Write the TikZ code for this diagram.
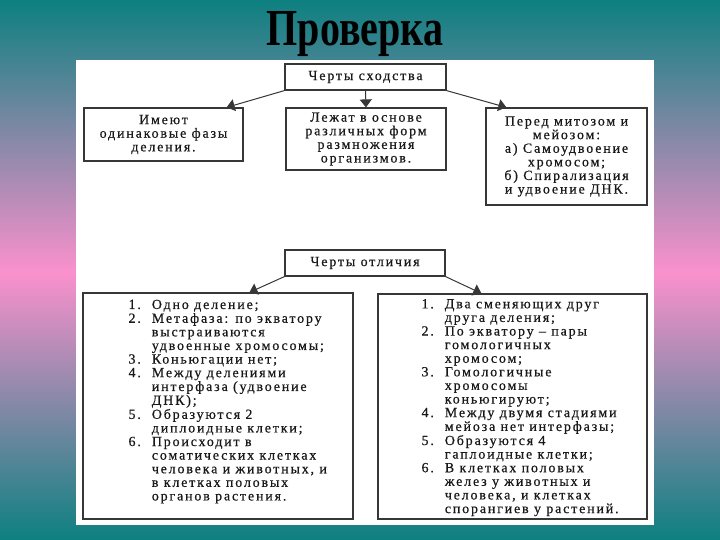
\documentclass[tikz,border=0pt]{standalone}
\usepackage{fontspec}
\setmainfont{Liberation Serif}
\newfontfamily\bodyfont[LetterSpace=13,FakeBold=0.5]{Liberation Serif}
\usetikzlibrary{arrows.meta}
\definecolor{teal1}{RGB}{13,128,128}
\definecolor{pink1}{RGB}{250,145,205}
\definecolor{edge}{RGB}{55,55,55}
\definecolor{ink}{RGB}{25,25,25}
\tikzset{
  box/.style={draw=edge, line width=1.2pt, fill=white, inner sep=0pt},
  txt/.style={font=\bodyfont\fontsize{14}{13.6}\selectfont, text=ink, align=center},
  conn/.style={draw=edge, line width=1pt, -{Triangle[width=12pt,length=8pt]}},
}
\begin{document}
\begin{tikzpicture}[x=1pt,y=-1pt]
\useasboundingbox (0,0) rectangle (720,540);
\shade[top color=teal1, bottom color=pink1] (0,0) rectangle (720,272.5);
\shade[top color=pink1, bottom color=teal1] (0,272) rectangle (720,540);
\fill[white] (76,60) rectangle (654,525);
\node[font=\bfseries\fontsize{52}{52}\selectfont, anchor=base] (title) at (355,46) {\scalebox{0.77}[1]{Проверка}};

\node[box, txt, minimum width=161pt, minimum height=26pt] (sim) at (365.5,77) {Черты сходства};
\node[box, txt, minimum width=159pt, minimum height=53pt] (b1) at (163.5,134.5) {Имеют\\одинаковые фазы\\деления.};
\node[box, txt, minimum width=160pt, minimum height=62pt] (b2) at (366,139) {Лежат в основе\\различных форм\\размножения\\организмов.};
\node[box, txt, minimum width=161pt, minimum height=97pt] (b3) at (566.5,156.5) {Перед митозом и\\мейозом:\\а) Самоудвоение\\хромосом;\\б) Спирализация\\и удвоение ДНК.};

\node[box, txt, minimum width=160pt, minimum height=26pt] (diff) at (365,263) {Черты отличия};
\node[box, minimum width=270pt, minimum height=226pt] (lb) at (218,406) {};
\node[box, minimum width=269pt, minimum height=225pt] (rb) at (512.5,406.5) {};

\node[txt, anchor=west] (lt) at (125,402) {\begin{tabular}{@{}l@{\hspace{11pt}}l@{}}
1. & Одно деление;\\
2. & Метафаза: по экватору\\
   & выстраиваются\\
   & удвоенные хромосомы;\\
3. & Коньюгации нет;\\
4. & Между делениями\\
   & интерфаза (удвоение\\
   & ДНК);\\
5. & Образуются 2\\
   & диплоидные клетки;\\
6. & Происходит в\\
   & соматических клетках\\
   & человека и животных, и\\
   & в клетках половых\\
   & органов растения.
\end{tabular}};

\node[txt, anchor=west] (rt) at (418,408) {\begin{tabular}{@{}l@{\hspace{11pt}}l@{}}
1. & Два сменяющих друг\\
   & друга деления;\\
2. & По экватору – пары\\
   & гомологичных\\
   & хромосом;\\
3. & Гомологичные\\
   & хромосомы\\
   & коньюгируют;\\
4. & Между двумя стадиями\\
   & мейоза нет интерфазы;\\
5. & Образуются 4\\
   & гаплоидные клетки;\\
6. & В клетках половых\\
   & желез у животных и\\
   & человека, и клетках\\
   & спорангиев у растений.
\end{tabular}};

\draw[conn] (sim.south west) -- ([xshift=-17pt]b1.north east);
\draw[conn] (sim.south) -- (b2.north);
\draw[conn] (sim.south east) -- ([xshift=21pt]b3.north west);
\draw[conn] (diff.south west) -- ([xshift=167pt]lb.north west);
\draw[conn] (diff.south east) -- ([xshift=104pt]rb.north west);
\end{tikzpicture}
\end{document}
